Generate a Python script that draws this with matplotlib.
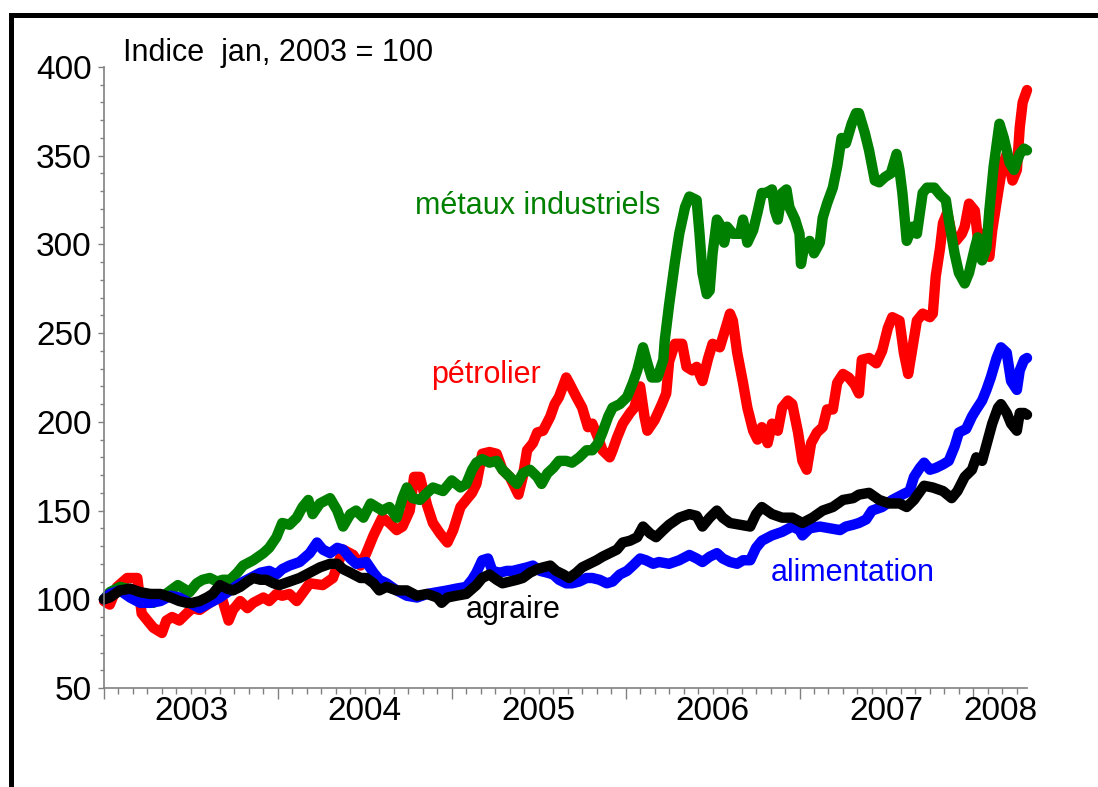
import numpy as np
import matplotlib.pyplot as plt
from matplotlib.lines import Line2D
from matplotlib.ticker import MultipleLocator

plt.rcParams['font.family'] = ['Liberation Sans', 'DejaVu Sans']

# x = mois depuis janvier 2003, y = indice (jan 2003 = 100)
petrolier = np.array([
    [0, 99], [0.4, 97], [0.9, 107], [1.6, 112], [2.3, 112], [2.6, 92], [3.0, 88], [3.4, 84],
    [4.0, 81], [4.3, 88], [4.7, 90], [5.2, 88], [5.7, 92], [6.1, 95], [6.6, 94], [7.3, 98],
    [7.9, 101], [8.2, 99], [8.6, 88], [8.9, 94], [9.4, 99], [9.9, 95], [10.3, 98], [11.0, 101],
    [11.4, 99], [11.9, 103], [12.3, 102], [12.8, 103], [13.3, 99], [14.2, 109], [15.1, 108],
    [15.8, 112], [16.5, 128], [17.2, 125], [17.7, 119], [18.1, 126], [18.6, 136], [19.2, 146],
    [19.7, 143], [20.2, 139], [20.6, 141], [21.1, 150], [21.4, 169], [21.8, 169], [22.3, 153],
    [22.7, 143], [23.2, 137], [23.7, 132], [24.1, 139], [24.6, 152], [25.0, 156], [25.4, 160],
    [25.7, 165], [26.1, 182], [26.6, 183], [27.1, 182], [27.5, 173], [28.0, 169], [28.6, 159],
    [28.9, 169], [29.2, 184], [29.6, 188], [29.9, 194], [30.3, 195], [30.8, 203], [31.1, 210],
    [31.4, 214], [31.9, 225], [32.1, 222], [32.6, 214], [33.0, 208], [33.4, 197], [33.7, 199],
    [34.1, 191], [34.4, 184], [34.9, 180], [35.1, 184], [35.4, 191], [35.8, 199], [36.3, 205],
    [36.6, 208], [37.0, 220], [37.3, 203], [37.5, 195], [38.0, 201], [38.5, 210], [38.8, 216],
    [39.0, 234], [39.4, 244], [39.9, 244], [40.2, 231], [40.6, 229], [40.9, 231], [41.3, 223],
    [41.7, 236], [42.0, 244], [42.5, 242], [42.8, 250], [43.2, 261], [43.4, 257], [43.7, 239],
    [44.1, 222], [44.4, 208], [44.8, 195], [45.1, 190], [45.4, 197], [45.8, 188], [46.1, 199],
    [46.5, 195], [46.8, 208], [47.2, 212], [47.5, 210], [47.9, 194], [48.2, 178], [48.5, 173],
    [48.8, 188], [49.2, 194], [49.6, 197], [49.9, 207], [50.3, 207], [50.6, 222], [51.0, 227],
    [51.4, 225], [51.8, 221], [52.1, 216], [52.3, 235], [52.8, 236], [53.3, 233], [53.7, 240],
    [54.1, 253], [54.4, 259], [54.9, 257], [55.2, 239], [55.5, 227], [55.8, 242], [56.1, 257],
    [56.5, 261], [57.0, 259], [57.2, 261], [57.4, 282], [57.7, 298], [57.9, 312], [58.2, 318],
    [58.5, 306], [58.8, 302], [59.2, 306], [59.4, 310], [59.7, 323], [60.1, 319], [60.3, 304],
    [60.6, 306], [61.1, 293], [61.3, 308], [61.7, 329], [62.0, 344], [62.3, 351], [62.7, 336],
    [63.0, 342], [63.2, 366], [63.4, 380], [63.7, 387],
])

metaux = np.array([
    [0, 100], [0.4, 104], [1.1, 107], [1.6, 106], [2.3, 103], [3.0, 99], [3.4, 98], [4.1, 102],
    [4.6, 105], [5.1, 108], [5.5, 106], [5.9, 104], [6.4, 109], [6.8, 111], [7.3, 112], [7.8, 110],
    [8.2, 111], [8.7, 111], [9.2, 115], [9.6, 119], [10.3, 122], [11.0, 126], [11.4, 129],
    [11.9, 135], [12.3, 143], [12.8, 142], [13.3, 146], [13.7, 152], [14.1, 156], [14.4, 148],
    [14.9, 154], [15.6, 157], [16.1, 150], [16.5, 141], [17.0, 148], [17.4, 150], [17.9, 146],
    [18.4, 154], [18.8, 152], [19.2, 150], [19.7, 152], [20.2, 146], [20.6, 157], [20.9, 163],
    [21.3, 157], [21.8, 156], [22.3, 160], [22.7, 163], [23.4, 161], [24.0, 167], [24.6, 163],
    [25.0, 165], [25.4, 173], [25.7, 177], [26.1, 179], [26.6, 177], [27.1, 178], [27.5, 173],
    [28.0, 169], [28.5, 165], [28.9, 171], [29.4, 173], [29.9, 169], [30.2, 165], [30.6, 171],
    [31.0, 174], [31.4, 178], [31.9, 178], [32.3, 177], [32.8, 180], [33.3, 184], [33.7, 184],
    [34.1, 188], [34.4, 194], [34.8, 203], [35.1, 208], [35.6, 210], [36.1, 214], [36.5, 222],
    [36.8, 229], [37.2, 242], [37.5, 233], [37.8, 225], [38.2, 225], [38.6, 235], [38.7, 246],
    [39.0, 266], [39.4, 290], [39.7, 306], [40.1, 321], [40.4, 327], [40.9, 325], [41.1, 306],
    [41.3, 284], [41.6, 272], [41.8, 274], [42.0, 295], [42.3, 314], [42.6, 310], [42.8, 301],
    [43.0, 310], [43.4, 306], [43.9, 306], [44.1, 314], [44.4, 301], [44.8, 308], [45.1, 318],
    [45.4, 329], [45.7, 329], [46.1, 331], [46.3, 319], [46.5, 314], [46.8, 329], [47.1, 331],
    [47.3, 321], [47.7, 314], [48.0, 306], [48.1, 289], [48.3, 298], [48.7, 302], [49.0, 295],
    [49.4, 301], [49.6, 315], [49.9, 323], [50.3, 332], [50.6, 344], [50.9, 360], [51.2, 357],
    [51.6, 368], [51.9, 374], [52.1, 374], [52.5, 363], [52.8, 353], [53.2, 336], [53.5, 335],
    [53.9, 338], [54.3, 340], [54.7, 351], [54.9, 342], [55.1, 329], [55.4, 302], [55.8, 310],
    [56.1, 306], [56.5, 329], [56.8, 332], [57.3, 332], [57.7, 328], [58.1, 325], [58.3, 314],
    [58.7, 295], [59.0, 284], [59.4, 278], [59.7, 284], [60.1, 298], [60.3, 304], [60.6, 291],
    [60.9, 298], [61.1, 319], [61.4, 344], [61.8, 368], [62.1, 360], [62.5, 346], [62.8, 342],
    [63.2, 351], [63.5, 354], [63.7, 353],
])

alimentation = np.array([
    [0, 100], [0.4, 103], [1.1, 105], [1.8, 101], [2.5, 98], [3.2, 98], [3.9, 99], [4.6, 102],
    [5.2, 101], [5.9, 98], [6.6, 95], [7.3, 98], [8.0, 101], [8.7, 105], [9.4, 109], [10.1, 112],
    [10.8, 115], [11.4, 116], [11.9, 114], [12.3, 117], [12.8, 119], [13.5, 121], [14.2, 126],
    [14.7, 132], [15.1, 128], [15.6, 126], [16.1, 129], [16.5, 128], [17.0, 123], [17.4, 120],
    [18.1, 121], [18.6, 115], [19.0, 111], [19.5, 109], [20.2, 105], [20.9, 102], [21.6, 101],
    [22.3, 103], [23.0, 104], [23.7, 105], [24.3, 106], [25.0, 107], [25.4, 111], [25.7, 115],
    [26.1, 122], [26.5, 123], [26.8, 116], [27.3, 115], [27.8, 116], [28.2, 116], [28.7, 117],
    [29.2, 118], [29.6, 119], [30.1, 116], [30.6, 115], [31.0, 114], [31.4, 111], [31.9, 109],
    [32.3, 109], [32.8, 110], [33.3, 112], [33.7, 112], [34.2, 111], [34.7, 109], [35.1, 110],
    [35.6, 114], [36.1, 116], [36.5, 119], [37.0, 123], [37.4, 122], [37.9, 120], [38.3, 121],
    [39.0, 120], [39.7, 122], [40.4, 125], [40.9, 123], [41.3, 121], [41.8, 124], [42.3, 126],
    [42.7, 123], [43.2, 121], [43.7, 120], [44.1, 122], [44.6, 122], [45.0, 129], [45.4, 133],
    [46.1, 136], [46.8, 138], [47.5, 141], [48.0, 139], [48.2, 136], [48.7, 140], [49.4, 141],
    [50.1, 140], [50.8, 139], [51.2, 141], [51.7, 142], [52.1, 143], [52.6, 145], [53.0, 150],
    [53.7, 152], [54.4, 156], [55.1, 159], [55.6, 161], [55.9, 169], [56.3, 174], [56.6, 177],
    [57.0, 173], [57.4, 174], [57.9, 176], [58.3, 178], [58.7, 186], [59.0, 194], [59.5, 196],
    [59.9, 203], [60.2, 207], [60.6, 212], [60.9, 218], [61.2, 225], [61.6, 236], [61.9, 242],
    [62.3, 239], [62.6, 223], [63.0, 218], [63.2, 229], [63.5, 235], [63.7, 236],
])

agraire = np.array([
    [0, 100], [0.4, 101], [1.1, 105], [1.8, 106], [2.5, 104], [3.2, 103], [3.9, 103], [4.6, 101],
    [5.2, 99], [5.7, 98], [6.1, 98], [6.6, 99], [7.1, 101], [7.5, 103], [8.0, 108], [8.5, 106],
    [8.9, 105], [9.4, 107], [9.9, 110], [10.3, 112], [10.8, 111], [11.2, 111], [11.7, 109],
    [12.1, 108], [12.8, 110], [13.5, 112], [14.2, 115], [14.9, 118], [15.6, 120], [16.1, 120],
    [16.5, 117], [17.0, 115], [17.7, 112], [18.1, 112], [18.6, 109], [19.0, 105], [19.5, 107],
    [20.2, 105], [20.9, 105], [21.6, 102], [22.3, 103], [23.0, 101], [23.3, 98], [23.7, 101],
    [24.3, 102], [25.0, 103], [25.7, 108], [26.1, 112], [26.6, 114], [27.1, 111], [27.5, 109],
    [28.0, 110], [28.5, 111], [28.9, 112], [29.4, 115], [29.9, 117], [30.3, 118], [30.8, 119],
    [31.2, 116], [31.7, 114], [32.1, 112], [32.6, 115], [33.0, 118], [33.5, 120], [34.0, 122],
    [34.4, 124], [34.9, 126], [35.4, 128], [35.8, 132], [36.3, 133], [36.8, 135], [37.2, 141],
    [37.7, 137], [38.1, 135], [38.6, 139], [39.0, 142], [39.7, 146], [40.4, 148], [40.9, 147],
    [41.3, 141], [41.8, 146], [42.3, 150], [42.7, 146], [43.2, 143], [43.9, 142], [44.6, 141],
    [45.0, 148], [45.4, 152], [46.1, 148], [46.8, 146], [47.5, 146], [48.2, 143], [48.9, 146],
    [49.6, 150], [50.3, 152], [51.0, 156], [51.7, 157], [52.1, 159], [52.8, 160], [53.5, 156],
    [54.2, 154], [54.9, 154], [55.4, 152], [55.9, 156], [56.6, 164], [57.2, 163], [57.9, 161],
    [58.5, 157], [58.9, 161], [59.4, 169], [59.9, 173], [60.2, 180], [60.6, 178], [61.0, 190],
    [61.3, 199], [61.7, 208], [61.9, 210], [62.3, 205], [62.6, 199], [63.0, 195], [63.2, 205],
    [63.5, 205], [63.7, 204],
])

annees = ['2003', '2004', '2005', '2006', '2007', '2008']
annees_pos = [6, 18, 30, 42, 54, 61.9]

fig = plt.figure(figsize=(10.98, 7.87), dpi=100)
ax = fig.add_axes([104 / 1098, 99 / 787, 923 / 1098, 621 / 787])

series = [
    (petrolier, '#ff0000'),
    (metaux, '#008000'),
    (alimentation, '#0000ff'),
    (agraire, '#000000'),
]
for data, col in series:
    ax.plot(data[:, 0], data[:, 1], color=col, lw=7.5,
            solid_joinstyle='round', solid_capstyle='round', clip_on=False)

ax.set_xlim(0, 63.7)
ax.set_ylim(50, 400)

gris = '#808080'
for s in ['top', 'right']:
    ax.spines[s].set_visible(False)
for s in ['left', 'bottom']:
    ax.spines[s].set_color(gris)
    ax.spines[s].set_linewidth(1.2)

ax.xaxis.set_major_locator(MultipleLocator(12))
ax.xaxis.set_minor_locator(MultipleLocator(1))
ax.yaxis.set_major_locator(MultipleLocator(50))
ax.yaxis.set_minor_locator(MultipleLocator(10))
ax.tick_params(axis='x', which='major', length=8, width=1, color=gris, labelbottom=False)
ax.tick_params(axis='x', which='minor', length=4, width=1, color=gris)
ax.tick_params(axis='y', which='major', length=4, width=1, color=gris, pad=5, labelsize=24)
ax.tick_params(axis='y', which='minor', length=3, width=1, color=gris)

for pos, lab in zip(annees_pos, annees):
    ax.text(pos, -0.013, lab, transform=ax.get_xaxis_transform(),
            ha='center', va='top', fontsize=24)

ax.text(21.45, 317, 'métaux industriels', color='#008000', fontsize=22, va='baseline')
ax.text(22.6, 222, 'pétrolier', color='#ff0000', fontsize=22, va='baseline')
ax.text(46.0, 110.5, 'alimentation', color='#0000ff', fontsize=22, va='baseline')
ax.text(24.97, 89.5, 'agraire', color='#000000', fontsize=22, va='baseline')

fig.text(123 / 1098, 1 - 61 / 787, 'Indice  jan, 2003 = 100', fontsize=22, va='baseline')

# cadre noir (gauche et haut)
fig.add_artist(Line2D([11 / 1098, 11 / 1098], [0, 1 - 15 / 787], transform=fig.transFigure,
                      color='k', lw=3.6, solid_capstyle='projecting'))
fig.add_artist(Line2D([11 / 1098, 1], [1 - 15 / 787, 1 - 15 / 787], transform=fig.transFigure,
                      color='k', lw=3.6, solid_capstyle='projecting'))

fig.savefig('out.png', dpi=100)
